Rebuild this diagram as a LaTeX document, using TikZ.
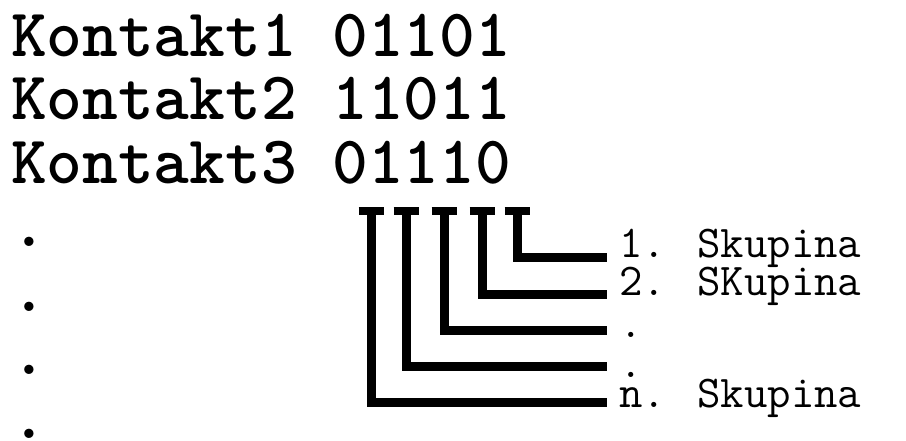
\documentclass[tikz,border=0pt]{standalone}
\usepackage{fontspec}
\begin{document}
\begin{tikzpicture}[x=1pt,y=-1pt,
  bigtxt/.style={anchor=base west,inner sep=0pt,font=\ttfamily\bfseries\fontsize{68}{68}\selectfont},
  lbl/.style={anchor=base west,inner sep=0pt,font=\ttfamily\fontsize{45.5}{45.5}\selectfont},
  bar/.style={line width=9pt,line cap=butt,line join=miter}]
\useasboundingbox (0,0) rectangle (906,441);

% contact rows
\node[bigtxt] (k1) at (11,57)  {Kontakt1 01101};
\node[bigtxt] (k2) at (11,120) {Kontakt2 11011};
\node[bigtxt] (k3) at (11,184) {Kontakt3 01110};
\node[bigtxt] (d1) at (11,247) {.};
\node[bigtxt] (d2) at (11,311) {.};
\node[bigtxt] (d3) at (11,374) {.};
\node[bigtxt] (d4) at (11,438) {.};

% group labels
\node[lbl] (g1) at (619,258) {1. Skupina};
\node[lbl] (g2) at (619,295) {2. SKupina};
\node[lbl] (g3) at (619,337) {.};
\node[lbl] (g4) at (619,377) {.};
\node[lbl] (gn) at (619,407) {n. Skupina};

% bracket heads under the bits
\coordinate (t1) at (517,211);
\coordinate (t2) at (482,211);
\coordinate (t3) at (444,211);
\coordinate (t4) at (406,211);
\coordinate (t5) at (371,211);

% bracket ends beside the labels
\coordinate (e1) at (607,258);
\coordinate (e2) at (607,294);
\coordinate (e3) at (607,330);
\coordinate (e4) at (607,366);
\coordinate (e5) at (607,402);

\foreach \i in {1,...,5}{
  \draw[line width=8pt] ([xshift=-12.5pt]t\i) -- ([xshift=12.5pt]t\i);
  \draw[bar] ([yshift=-4pt]t\i) |- (e\i);
}
\end{tikzpicture}
\end{document}
